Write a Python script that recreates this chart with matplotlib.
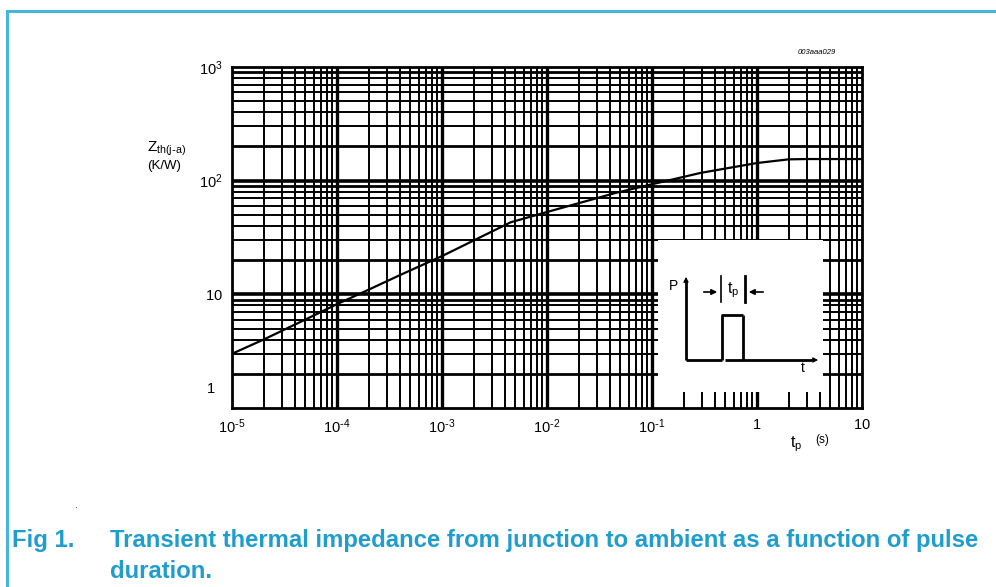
import matplotlib
matplotlib.use("Agg")
import matplotlib.pyplot as plt
import numpy as np
from matplotlib.lines import Line2D
from matplotlib.patches import Rectangle

plt.rcParams['font.family'] = ['Liberation Sans', 'DejaVu Sans']

# pulse duration (s) and transient thermal impedance Zth(j-a) (K/W)
tp = [1e-5, 2e-5, 5e-5, 1e-4, 1.8e-4, 4e-4, 1e-3, 4.5e-3, 1e-2,
      4.5e-2, 1e-1, 0.29, 1.0, 2.0, 3.0, 10.0]
zth = [3.0, 4.0, 6.0, 8.2, 10.5, 14.8, 21.7, 43.0, 53.0,
       78.0, 93.0, 117.0, 143.0, 154.0, 155.0, 155.0]

x_ticks = [1e-5, 1e-4, 1e-3, 1e-2, 1e-1, 1, 10]
x_labels = [r'10^{\text{-}5}', r'10^{\text{-}4}', r'10^{\text{-}3}',
            r'10^{\text{-}2}', r'10^{\text{-}1}', '1', '10']
y_ticks = [10, 100, 1000]
y_labels = ['10', '10^2', '10^3']

blue = '#1f9dcc'

fig = plt.figure(figsize=(9.96, 5.87), dpi=100)
W, H = 996, 587

def fx(px):
    return px / W

def fy(py):
    return 1 - py / H

# frame around the figure
fig.add_artist(Line2D([fx(7), 1.0], [fy(11), fy(11)], color='#45b6dc', lw=2.2))
fig.add_artist(Line2D([fx(7), fx(7)], [fy(11), 0.0], color='#45b6dc', lw=2.2))

ax = fig.add_axes([fx(232), fy(408), fx(862) - fx(232), fy(67) - fy(408)])
ax.set_xscale('log')
ax.set_yscale('log')
ax.set_xlim(1e-5, 10)
ax.set_ylim(1, 1000)

# dense log grid
for dec in range(-5, 1):
    for m in range(1, 10):
        v = m * 10.0 ** dec
        if 1e-5 < v < 10:
            ax.axvline(v, color='black', lw=2.4 if m == 1 else 1.4, zorder=1)
for dec in range(0, 3):
    for m in range(1, 10):
        v = m * 10.0 ** dec
        if 1 < v < 1000:
            lw = 2.6 if m == 1 else (2.0 if m in (2, 9) else 1.4)
            ax.axhline(v, color='black', lw=lw, zorder=1)

ax.plot(tp, zth, color='black', lw=1.6, zorder=3)

for s in ax.spines.values():
    s.set_linewidth(2.0)
    s.set_color('black')

ax.set_xticks(x_ticks)
ax.set_xticklabels([r'$\mathregular{%s}$' % l for l in x_labels], fontsize=10.5)
ax.set_yticks(y_ticks)
ax.set_yticklabels([r'$\mathregular{%s}$' % l for l in y_labels], fontsize=10.5)
ax.minorticks_off()
ax.tick_params(length=0, pad=7)
ax.annotate('1', xy=(0, 1), xycoords=('axes fraction', 'data'),
            xytext=(-12, 14), textcoords='offset points',
            ha='right', va='center', fontsize=10.5)

# white inset with pulse definition
box = ax.inset_axes([(658 - 232) / 630, (408 - 392) / 341,
                     (823 - 658) / 630, (392 - 240) / 341], zorder=4)
box.set_xlim(658, 823)
box.set_ylim(392, 240)
box.set_facecolor('white')
box.axis('off')
box.add_patch(Rectangle((658, 240), 165, 152, facecolor='white',
                        edgecolor='none', zorder=0))
kw = dict(color='black', lw=2.0, solid_capstyle='butt')
box.plot([686, 722], [360, 360], **kw)
box.plot([725, 743, 743], [360, 360, 315], **kw)
box.plot([722, 722, 743], [360, 315, 315], **kw)
box.plot([743, 812], [360, 360], **kw)
box.plot([686, 686], [360, 282], **kw)
box.annotate('', xy=(686, 274), xytext=(686, 284),
             arrowprops=dict(arrowstyle='-|>', color='black', lw=1.0,
                             mutation_scale=7))
box.annotate('', xy=(821, 360), xytext=(811, 360),
             arrowprops=dict(arrowstyle='-|>', color='black', lw=1.0,
                             mutation_scale=7))
box.plot([721, 721], [276, 302], color='black', lw=1.2)
box.plot([745, 745], [276, 302], color='black', lw=2.0)
box.annotate('', xy=(720, 292), xytext=(701, 292),
             arrowprops=dict(arrowstyle='-|>', color='black', lw=1.2,
                             mutation_scale=8))
box.annotate('', xy=(746, 292), xytext=(766, 292),
             arrowprops=dict(arrowstyle='-|>', color='black', lw=1.2,
                             mutation_scale=8))
box.text(673, 286, 'P', fontsize=10, ha='center', va='center')
box.text(733, 290, r'$\mathregular{t_p}$', fontsize=11.5, ha='center', va='center')
box.text(803, 368, 't', fontsize=10, ha='center', va='center')

# axis titles
fig.text(fx(167), fy(149), r'$\mathregular{Z_{th(j\text{-}a)}}$', fontsize=11,
         ha='center', va='center')
fig.text(fx(164), fy(166), '(K/W)', fontsize=9.5, ha='center', va='center')
fig.text(fx(796), fy(444), r'$\mathregular{t_p}$', fontsize=11.5, ha='center', va='center')
fig.text(fx(822), fy(440), '(s)', fontsize=8.5, ha='center', va='center')
fig.text(fx(836), fy(52), '003aaa029', fontsize=5.5, style='italic',
         ha='right', va='center')

fig.text(fx(75), fy(505), '.', fontsize=7, ha='center', va='center')

# caption
cap = dict(fontsize=17.2, fontweight='bold', color=blue, va='center')
fig.text(fx(12), fy(541), 'Fig 1.', ha='left', **cap)
fig.text(fx(110), fy(541),
         'Transient thermal impedance from junction to ambient as a function of pulse',
         ha='left', **cap)
fig.text(fx(110), fy(572), 'duration.', ha='left', **cap)

fig.savefig('out.png', dpi=100)
